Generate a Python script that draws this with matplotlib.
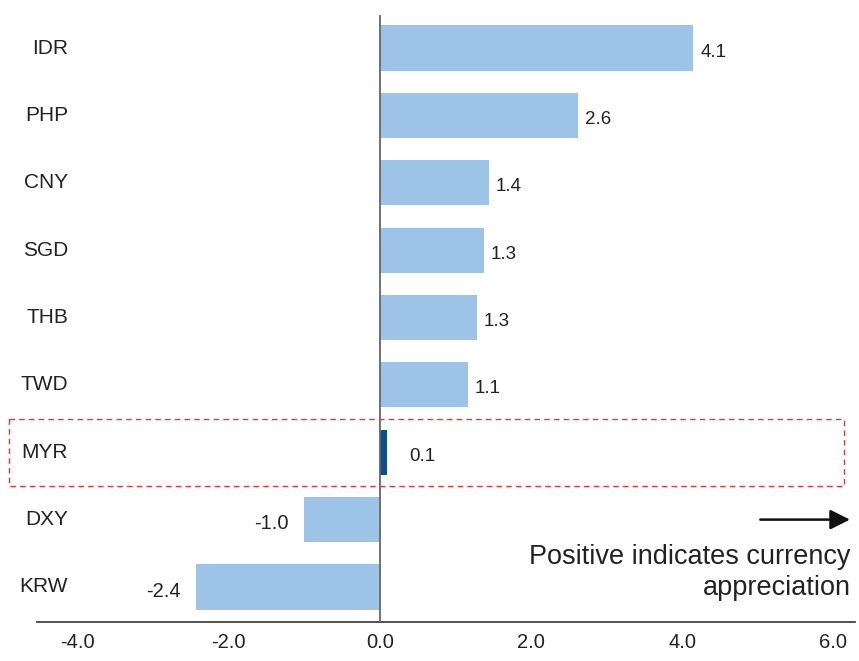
import matplotlib.pyplot as plt
from matplotlib.patches import Rectangle

plt.rcParams['font.family'] = ['Liberation Sans', 'DejaVu Sans']

# Currency moves (%)
currencies = ['IDR', 'PHP', 'CNY', 'SGD', 'THB', 'TWD', 'MYR', 'DXY', 'KRW']
values = [4.15, 2.62, 1.44, 1.38, 1.28, 1.16, 0.1, -1.01, -2.44]
value_labels = ['4.1', '2.6', '1.4', '1.3', '1.3', '1.1', '0.1', '-1.0', '-2.4']
highlight = 'MYR'

light_blue = '#9dc3e6'
dark_blue = '#0b4f8a'

fig = plt.figure(figsize=(8.59, 6.61), dpi=100)
W, H = 859, 661
ax = fig.add_axes([37 / W, (H - 622) / H, (855 - 37) / W, (622 - 15) / H])

ypos = list(range(len(currencies)))
colors = [dark_blue if c == highlight else light_blue for c in currencies]
ax.barh(ypos, values, height=0.67, color=colors, zorder=2)

ax.set_xlim(-4.54, 6.29)
ax.set_ylim(8.52, -0.49)

ax.axvline(0, color='#666666', lw=1.3, zorder=3)
for s in ['top', 'right', 'left']:
    ax.spines[s].set_visible(False)
ax.spines['bottom'].set_color('#333333')
ax.spines['bottom'].set_linewidth(1.2)

ax.set_xticks([-4, -2, 0, 2, 4, 6])
ax.set_xticklabels(['-4.0', '-2.0', '0.0', '2.0', '4.0', '6.0'], fontsize=14.5, color='#222222')
ax.tick_params(axis='x', length=0, pad=8)
ax.set_yticks([])

# category labels
for y, c in zip(ypos, currencies):
    ax.text(0.038, y, c, transform=ax.get_yaxis_transform(), ha='right', va='center',
            fontsize=15, color='#222222')

# value labels
for y, v, lab in zip(ypos, values, value_labels):
    if v >= 0:
        ax.annotate(lab, (max(v, 0.3), y + 0.06), xytext=(5, 0), textcoords='offset points',
                    ha='left', va='center', fontsize=13.5, color='#222222')
    else:
        ax.annotate(lab, (v, y + 0.06), xytext=(-11, 0), textcoords='offset points',
                    ha='right', va='center', fontsize=14.5, color='#222222')

# dashed highlight box around MYR
my = currencies.index(highlight)
ax.add_patch(Rectangle((-4.91, my - 0.5), 11.06, 1.0, fill=False, ec='#e8333a',
                       ls=(0, (4, 3)), lw=1.0, clip_on=False, zorder=4))

# arrow + note
ax.annotate('', xy=(6.26, 7.0), xytext=(5.0, 7.0),
            arrowprops=dict(arrowstyle='-|>,head_length=1.2,head_width=0.6',
                            color='#111111', lw=1.8))
ax.text(6.23, 7.78, 'Positive indicates currency\nappreciation', ha='right', va='center',
        fontsize=19.5, color='#222222', linespacing=1.25)

fig.savefig('out.png', dpi=100)
